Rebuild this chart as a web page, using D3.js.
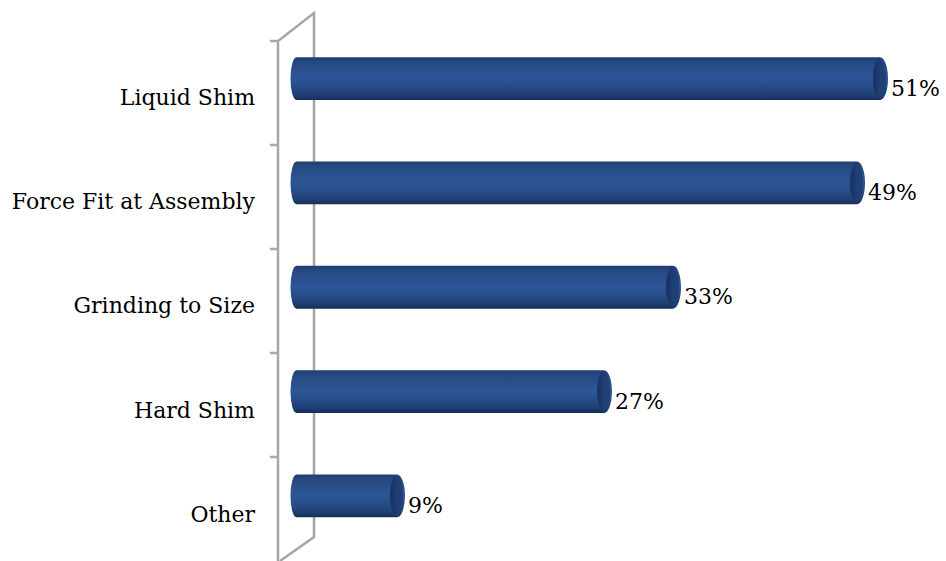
<!DOCTYPE html>
<html>
<head>
<meta charset="utf-8">
<script src="https://cdn.jsdelivr.net/npm/d3@7"></script>
<style>
  html, body { margin: 0; padding: 0; background: #fff; }
  svg { display: block; }
  text { font-family: "DejaVu Serif", "Liberation Serif", serif; fill: #000; }
</style>
</head>
<body>
<svg id="chart" width="946" height="561"></svg>
<script>
// Method used to fill gaps, share of respondents (%)
const categories = ["Liquid Shim", "Force Fit at Assembly", "Grinding to Size", "Hard Shim", "Other"];
const values = [51, 49, 33, 27, 9];
const valueLabels = ["51%", "49%", "33%", "27%", "9%"];

const svg = d3.select("#chart");

// Plot geometry
const wallFrontX = 278, wallBackX = 314;
const plotTop = 41, plotBottom = 564;

const x = d3.scaleLinear().domain([0, 51]).range([301.5, 888]);
const y = d3.scaleBand().domain(categories).range([plotTop - 15, plotTop - 15 + 5 * 104.5]).paddingInner(0.59).paddingOuter(0.3);

// Gradients for cylinder body and end cap
const defs = svg.append("defs");
const g1 = defs.append("linearGradient").attr("id", "cyl").attr("x1", 0).attr("y1", 0).attr("x2", 0).attr("y2", 1);
[[0, "#1f3e72"], [0.1, "#25487f"], [0.45, "#2d5697"], [0.62, "#2a508e"], [0.88, "#1f3f73"], [1, "#162e56"]]
  .forEach(([o, c]) => g1.append("stop").attr("offset", o).attr("stop-color", c));
const g2 = defs.append("linearGradient").attr("id", "cap").attr("x1", 0).attr("y1", 0).attr("x2", 1).attr("y2", 0);
[[0, "#173060"], [0.55, "#1f3f75"], [1, "#213f72"]]
  .forEach(([o, c]) => g2.append("stop").attr("offset", o).attr("stop-color", c));

// Side wall of the 3D frame
const wall = svg.append("g").attr("stroke", "#a6a6a6").attr("stroke-width", 2.5).attr("fill", "none");
wall.append("path").attr("d", `M${wallFrontX},${plotBottom} L${wallFrontX},${plotTop} L${wallBackX},13 L${wallBackX},537 L${wallFrontX + 2},561`);
// Tick marks at category boundaries
const tickYs = d3.range(5).map(i => plotTop + i * 104);
wall.selectAll("line.tick").data(tickYs).join("line")
  .attr("x1", 270).attr("x2", wallFrontX).attr("y1", d => d).attr("y2", d => d);

// Bars drawn as horizontal cylinders; x(v) is the outer edge of the end cap
const bh = y.bandwidth();
const rx = 8;
const bars = svg.append("g").selectAll("g").data(categories.map((c, i) => ({ c, v: values[i], l: valueLabels[i] }))).join("g");
bars.append("path")
  .attr("fill", "url(#cyl)")
  .attr("d", d => {
    const x0 = x(0) - 11, x1 = x(d.v) - rx, t = y(d.c), b = t + bh, r = bh / 2;
    return `M${x0 + 6},${t} L${x1},${t} A${rx},${r} 0 0 1 ${x1},${b} L${x0 + 6},${b} A6,${r} 0 0 1 ${x0 + 6},${t} Z`;
  });
bars.append("ellipse")
  .attr("fill", "url(#cap)")
  .attr("cx", d => x(d.v) - rx - 0.5).attr("cy", d => y(d.c) + bh / 2)
  .attr("rx", rx - 1.5).attr("ry", bh / 2 - 1.5);

// Value labels
bars.append("text")
  .attr("x", d => x(d.v) + 3)
  .attr("y", d => y(d.c) + bh / 2 + 17)
  .attr("font-size", 22)
  .text(d => d.l);

// Category labels
svg.append("g").selectAll("text").data(categories).join("text")
  .attr("x", 255)
  .attr("y", d => y(d) + bh / 2 + 26)
  .attr("text-anchor", "end")
  .attr("font-size", 22)
  .text(d => d);
</script>
</body>
</html>
